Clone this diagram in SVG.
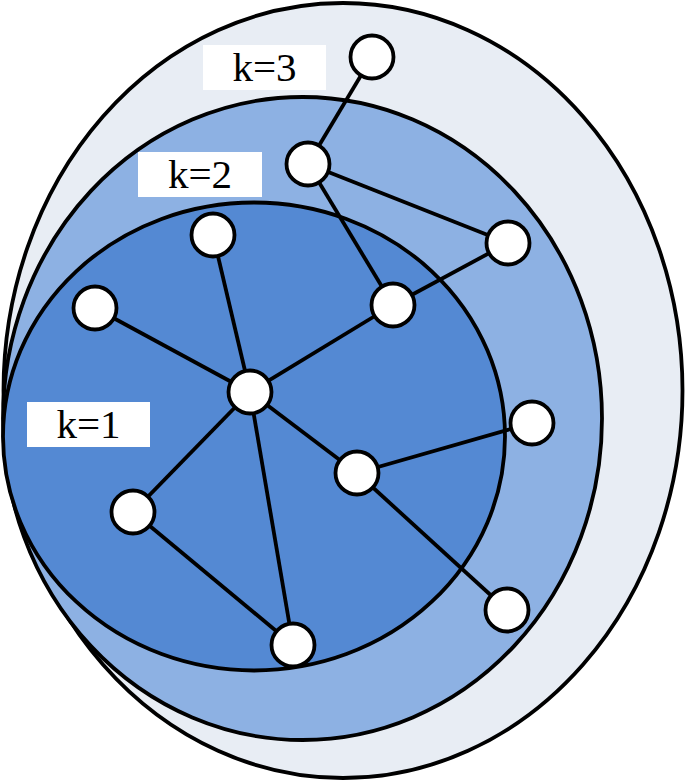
<svg xmlns="http://www.w3.org/2000/svg" width="685" height="782" viewBox="0 0 685 782">
<style>
.ring{stroke:#000;stroke-width:3.8}
.edge{stroke:#000;stroke-width:3.8;fill:none}
.node{fill:#fff;stroke:#000;stroke-width:3.8}
.lbl{fill:#fff}
.txt{font-family:"Liberation Serif","Times New Roman",serif;font-size:41px;fill:#000;text-anchor:middle}
</style>
<rect width="685" height="782" fill="#fff"/>
<g id="ring-k3"><ellipse class="ring" cx="343" cy="390.5" rx="339.5" ry="387.5" fill="#E8EDF4"/></g>
<g id="ring-k2"><ellipse class="ring" cx="302.5" cy="418.5" rx="299.5" ry="321.5" fill="#8DB1E3"/></g>
<g id="ring-k1"><ellipse class="ring" cx="254" cy="436.5" rx="251" ry="234" fill="#5489D3"/></g>
<g id="connectors">
<line class="edge" x1="372" y1="57" x2="308" y2="164"/>
<line class="edge" x1="308" y1="164" x2="508" y2="243"/>
<line class="edge" x1="308" y1="164" x2="393" y2="305"/>
<line class="edge" x1="508" y1="243" x2="393" y2="305"/>
<line class="edge" x1="213" y1="235" x2="250" y2="392"/>
<line class="edge" x1="95" y1="308" x2="250" y2="392"/>
<line class="edge" x1="393" y1="305" x2="250" y2="392"/>
<line class="edge" x1="250" y1="392" x2="133" y2="512"/>
<line class="edge" x1="250" y1="392" x2="293" y2="645"/>
<line class="edge" x1="250" y1="392" x2="357" y2="473"/>
<line class="edge" x1="133" y1="512" x2="293" y2="645"/>
<line class="edge" x1="357" y1="473" x2="532" y2="423"/>
<line class="edge" x1="357" y1="473" x2="507" y2="610"/>
</g>
<g id="n1"><circle class="node" cx="372" cy="57" r="21.5"/></g>
<g id="n2"><circle class="node" cx="308" cy="164" r="21.5"/></g>
<g id="n3"><circle class="node" cx="508" cy="243" r="21.5"/></g>
<g id="n4"><circle class="node" cx="393" cy="305" r="21.5"/></g>
<g id="n5"><circle class="node" cx="213" cy="235" r="21.5"/></g>
<g id="n6"><circle class="node" cx="95" cy="308" r="21.5"/></g>
<g id="n7"><circle class="node" cx="250" cy="392" r="21.5"/></g>
<g id="n8"><circle class="node" cx="133" cy="512" r="21.5"/></g>
<g id="n9"><circle class="node" cx="293" cy="645" r="21.5"/></g>
<g id="n10"><circle class="node" cx="357" cy="473" r="21.5"/></g>
<g id="n11"><circle class="node" cx="532" cy="423" r="21.5"/></g>
<g id="n12"><circle class="node" cx="507" cy="610" r="21.5"/></g>
<g id="label-k3"><rect class="lbl" x="203" y="45" width="123" height="45"/><text class="txt" x="264.5" y="81">k=3</text></g>
<g id="label-k2"><rect class="lbl" x="138" y="152" width="124" height="45"/><text class="txt" x="200" y="188">k=2</text></g>
<g id="label-k1"><rect class="lbl" x="27" y="402" width="123" height="45"/><text class="txt" x="88.5" y="438">k=1</text></g>
</svg>
